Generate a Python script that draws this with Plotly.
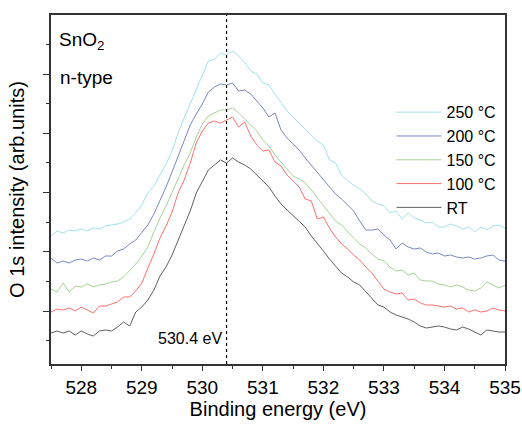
import plotly.graph_objects as go

# Binding energy axis (eV), 0.1 eV steps
energy = [round(527.5 + 0.1 * i, 1) for i in range(76)]

# O 1s intensity (arb. units)
i_250 = [128,133,131,134,133,135,133,136,135,138,
         139,140,142,145,151,159,171,178,189,200,
         213,231,246,260,274,289,303,305,311,309,
         313,308,302,293,290,281,279,270,261,253,
         247,241,234,229,223,219,204,201,189,183,
         179,175,170,163,160,158,151,153,145,151,
         146,144,141,142,137,137,140,138,135,137,
         132,137,134,138,139,136]
i_200 = [106,101,103,101,104,105,103,106,104,108,
         108,113,115,120,124,132,139,150,163,177,
         192,207,224,239,250,260,272,277,280,279,
         281,273,274,270,263,256,247,251,234,226,
         220,214,206,199,192,184,178,170,165,159,
         153,143,134,134,135,129,124,115,121,117,
         115,116,112,110,111,108,109,107,106,107,
         105,106,108,109,104,103]
i_150 = [75,72,81,72,78,77,80,77,79,80,
         82,83,87,93,100,108,117,132,146,158,
         171,185,199,211,227,240,248,251,254,254,
         256,251,245,238,233,224,218,209,202,196,
         188,185,181,174,166,159,151,143,139,132,
         126,120,116,110,105,103,97,93,94,89,
         91,84,83,83,80,79,77,79,77,74,
         73,76,82,79,76,79]
i_100 = [52,55,54,56,53,57,54,51,58,58,
         60,62,67,67,73,81,96,110,126,138,
         152,171,184,201,221,233,241,243,241,244,
         247,237,242,228,219,213,214,202,198,189,
         183,177,165,163,145,147,136,127,120,115,
         109,104,97,91,83,75,72,70,71,64,
         65,61,59,59,58,57,58,55,56,52,
         54,52,53,56,54,53]
i_rt = [31,33,31,33,29,33,30,28,33,34,
        33,37,42,38,52,57,64,74,88,97,
        109,124,139,153,171,183,194,199,204,201,
        206,202,199,195,189,183,177,168,160,154,
        148,142,137,128,121,113,105,98,91,87,
        82,79,72,65,59,57,52,49,47,45,
        42,38,36,37,38,37,35,34,37,35,
        32,29,34,33,32,32]

series_names = ["250 °C", "200 °C", "150 °C", "100 °C", "RT"]
series_vals = [i_250, i_200, i_150, i_100, i_rt]
series_colors = ["#a3e2e8", "#7a88c4", "#a6d395", "#ff7070", "#606060"]

peak_energy = 530.4
peak_label = "530.4 eV"

FONT = "Liberation Sans, Arial, sans-serif"

fig = go.Figure()
for name, vals, col in zip(series_names, series_vals, series_colors):
    fig.add_trace(go.Scatter(x=energy, y=vals, mode="lines", name=name,
                             line=dict(color=col, width=1)))

fig.add_shape(type="line", x0=peak_energy, x1=peak_energy, y0=0, y1=1,
              xref="x", yref="paper",
              line=dict(color="black", width=1.2, dash="dot"))

fig.add_annotation(x=peak_energy, y=26, xref="x", yref="y", text=peak_label,
                   showarrow=False, xanchor="right", xshift=-3,
                   font=dict(family=FONT, size=16, color="black"))
fig.add_annotation(x=0.013, y=0.925, xref="paper", yref="paper",
                   text="SnO<sub>2</sub>", showarrow=False,
                   xanchor="left", yanchor="middle",
                   font=dict(family=FONT, size=19, color="black"))
fig.add_annotation(x=0.015, y=0.82, xref="paper", yref="paper",
                   text="n-type", showarrow=False,
                   xanchor="left", yanchor="middle",
                   font=dict(family=FONT, size=19, color="black"))

fig.update_layout(
    width=522, height=435,
    margin=dict(l=51, r=17, t=15, b=71),
    paper_bgcolor="white", plot_bgcolor="white",
    font=dict(family=FONT, color="black"),
    showlegend=True,
    legend=dict(x=0.75, y=0.77, xanchor="left", yanchor="top",
                bgcolor="rgba(0,0,0,0)", font=dict(family=FONT, size=16),
                itemwidth=45, tracegroupgap=0),
    xaxis=dict(range=[527.5, 535], dtick=1, tick0=528, automargin=False,
               ticks="outside", ticklen=5, tickwidth=1, tickcolor="#333",
               showline=True, linecolor="#333", linewidth=1.5, mirror=True,
               showgrid=False, zeroline=False,
               tickfont=dict(family=FONT, size=19),
               minor=dict(dtick=0.5, tick0=527.5, ticks="outside", ticklen=3,
                          tickcolor="#333", showgrid=False),
               title=dict(text="Binding energy (eV)", standoff=5,
                          font=dict(family=FONT, size=20))),
    yaxis=dict(range=[0, 349], tick0=53, dtick=59.25, automargin=False,
               ticks="outside", ticklen=6, tickwidth=1, tickcolor="#333",
               showticklabels=False,
               showline=True, linecolor="#333", linewidth=1.5, mirror=True,
               showgrid=False, zeroline=False,
               minor=dict(dtick=59.25, tick0=23.375, ticks="outside", ticklen=3,
                          tickcolor="#333", showgrid=False),
               title=dict(text="O 1s intensity (arb.units)", standoff=13,
                          font=dict(family=FONT, size=20))),
)

fig.write_html("out.html", config={"displayModeBar": False},
               post_script="document.body.style.margin='0';")
